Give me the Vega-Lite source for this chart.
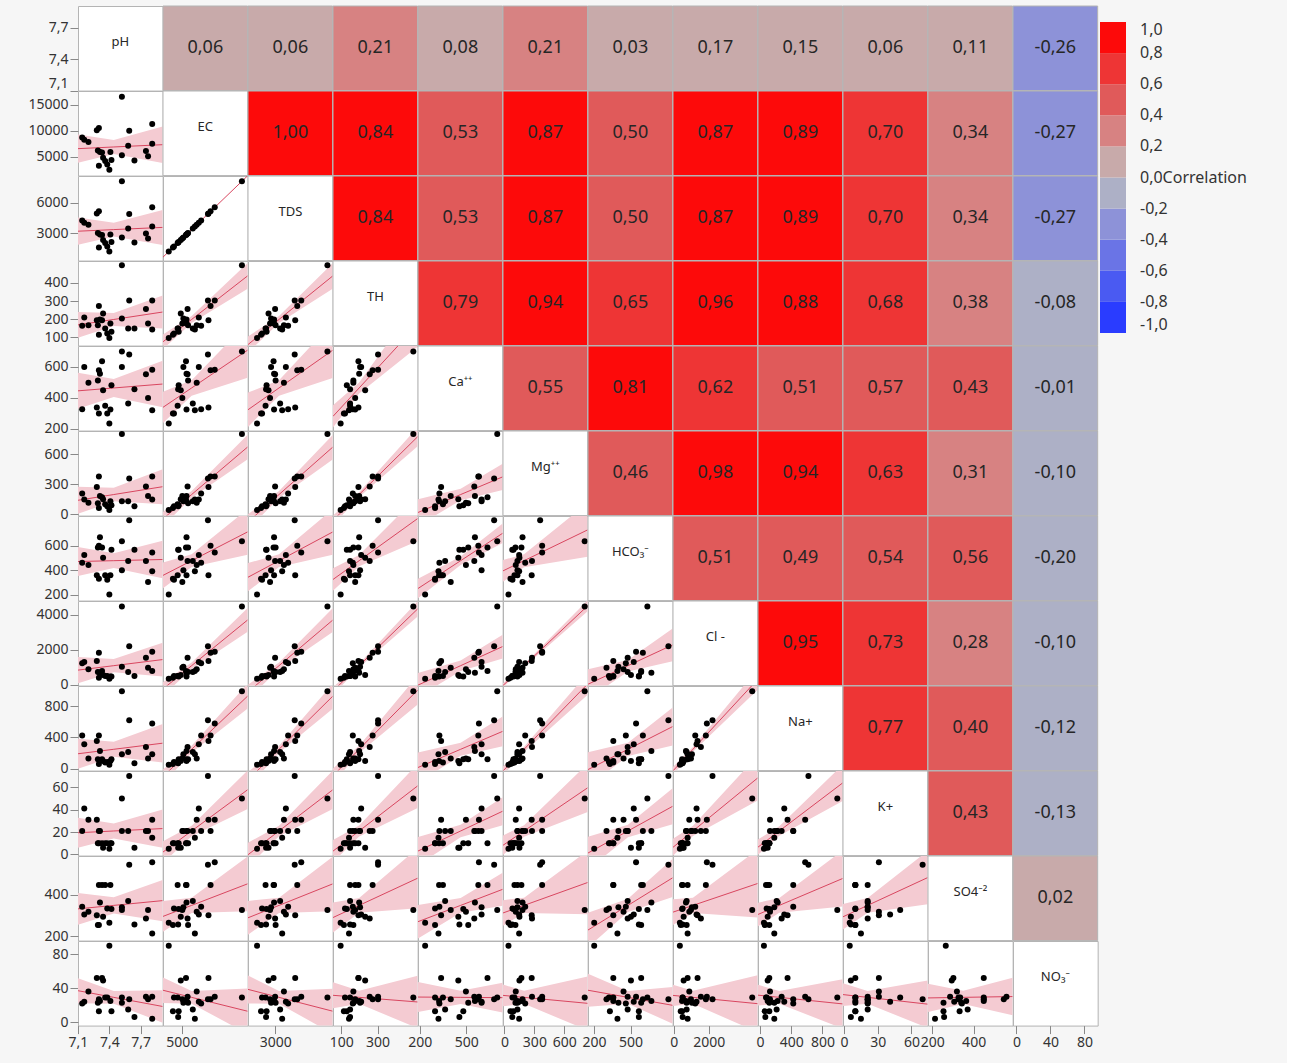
{
"$schema":"https://vega.github.io/schema/vega-lite/v6.json",
"background":"#f6f6f6",
"padding":{"left":27,"top":5,"right":40,"bottom":16},
"datasets":{"s":[
{"pH":7.14,"EC":8700,"TDS":4260,"TH":164,"Ca":327,"Mg":208,"HCO3":461,"Cl":1226,"Na":426,"K":21,"SO4":343,"NO3":22},
{"pH":7.16,"EC":8250,"TDS":4040,"TH":210,"Ca":599,"Mg":147,"HCO3":526,"Cl":1300,"Na":311,"K":41,"SO4":306,"NO3":24},
{"pH":7.20,"EC":7850,"TDS":3850,"TH":167,"Ca":498,"Mg":113,"HCO3":442,"Cl":887,"Na":128,"K":31,"SO4":319,"NO3":36},
{"pH":7.28,"EC":10100,"TDS":4950,"TH":195,"Ca":338,"Mg":273,"HCO3":358,"Cl":1358,"Na":353,"K":31,"SO4":302,"NO3":52},
{"pH":7.30,"EC":10500,"TDS":5150,"TH":273,"Ca":578,"Mg":378,"HCO3":601,"Cl":1830,"Na":426,"K":21,"SO4":449,"NO3":27},
{"pH":7.29,"EC":6200,"TDS":3040,"TH":167,"Ca":513,"Mg":110,"HCO3":587,"Cl":736,"Na":119,"K":10,"SO4":254,"NO3":23},
{"pH":7.31,"EC":5900,"TDS":2890,"TH":199,"Ca":556,"Mg":181,"HCO3":671,"Cl":698,"Na":226,"K":21,"SO4":364,"NO3":25},
{"pH":7.33,"EC":5800,"TDS":2840,"TH":195,"Ca":637,"Mg":170,"HCO3":587,"Cl":792,"Na":119,"K":10,"SO4":449,"NO3":52},
{"pH":7.41,"EC":5900,"TDS":2890,"TH":177,"Ca":325,"Mg":130,"HCO3":358,"Cl":472,"Na":98,"K":10,"SO4":449,"NO3":25},
{"pH":7.30,"EC":3300,"TDS":1620,"TH":115,"Ca":299,"Mg":60,"HCO3":330,"Cl":400,"Na":60,"K":10,"SO4":254,"NO3":13},
{"pH":7.34,"EC":4800,"TDS":2350,"TH":232,"Ca":449,"Mg":150,"HCO3":503,"Cl":566,"Na":98,"K":6,"SO4":294,"NO3":49},
{"pH":7.36,"EC":4200,"TDS":2060,"TH":149,"Ca":350,"Mg":100,"HCO3":358,"Cl":509,"Na":77,"K":10,"SO4":449,"NO3":29},
{"pH":7.38,"EC":3500,"TDS":1720,"TH":121,"Ca":299,"Mg":80,"HCO3":322,"Cl":509,"Na":85,"K":10,"SO4":335,"NO3":29},
{"pH":7.40,"EC":2500,"TDS":1230,"TH":97,"Ca":235,"Mg":40,"HCO3":201,"Cl":350,"Na":50,"K":5,"SO4":265,"NO3":90},
{"pH":7.42,"EC":4400,"TDS":2160,"TH":131,"Ca":481,"Mg":90,"HCO3":568,"Cl":480,"Na":119,"K":10,"SO4":332,"NO3":13},
{"pH":7.52,"EC":16500,"TDS":8090,"TH":497,"Ca":700,"Mg":805,"HCO3":638,"Cl":4470,"Na":991,"K":50,"SO4":327,"NO3":29},
{"pH":7.52,"EC":5300,"TDS":2600,"TH":204,"Ca":599,"Mg":130,"HCO3":400,"Cl":1038,"Na":183,"K":21,"SO4":340,"NO3":23},
{"pH":7.58,"EC":7100,"TDS":3480,"TH":149,"Ca":364,"Mg":130,"HCO3":476,"Cl":736,"Na":213,"K":21,"SO4":371,"NO3":15},
{"pH":7.59,"EC":10000,"TDS":4900,"TH":303,"Ca":680,"Mg":358,"HCO3":811,"Cl":2208,"Na":621,"K":70,"SO4":546,"NO3":27},
{"pH":7.64,"EC":4300,"TDS":2110,"TH":149,"Ca":456,"Mg":78,"HCO3":568,"Cl":509,"Na":68,"K":6,"SO4":257,"NO3":6},
{"pH":7.75,"EC":6100,"TDS":2990,"TH":257,"Ca":552,"Mg":276,"HCO3":476,"Cl":1547,"Na":277,"K":21,"SO4":286,"NO3":30},
{"pH":7.77,"EC":5100,"TDS":2500,"TH":177,"Ca":400,"Mg":181,"HCO3":302,"Cl":981,"Na":128,"K":21,"SO4":327,"NO3":27},
{"pH":7.81,"EC":11300,"TDS":5540,"TH":303,"Ca":582,"Mg":378,"HCO3":545,"Cl":1887,"Na":579,"K":31,"SO4":559,"NO3":30},
{"pH":7.81,"EC":7500,"TDS":3680,"TH":143,"Ca":321,"Mg":147,"HCO3":392,"Cl":792,"Na":183,"K":15,"SO4":213,"NO3":4}
]},
"columns":12,
"spacing":0,
"bounds":"flush",
"concat":[
{"layer":[{"data":{"values":[{"t":"pH"}]},"mark":{"type":"text","fontSize":13,"dy":-6},"encoding":{"text":{"field":"t"}}},{"data":{"name":"s"},"mark":{"type":"circle","opacity":0},"encoding":{"y":{"field":"pH","type":"quantitative","scale":{"domain":[7.1,7.91]},"axis":{"values":[7.1,7.4,7.7],"format":".1f","title":null,"labelFlush":true}}}}]},
{"data":{"values":[{"r":0.06}]},"layer":[{"mark":"rect","encoding":{"color":{"field":"r","type":"quantitative","title":null,"scale":{"type":"quantize","domain":[-1,1],"range":["#2a3cff","#4a5af2","#6a74e6","#8d92d8","#adb0c6","#c8aaaa","#d78282","#e05a5a","#ee3535","#fd0a0a"]},"legend":{"format":".1f","values":[-1,-0.8,-0.6,-0.4,-0.2,0,0.2,0.4,0.6,0.8,1],"labelExpr":"datum.value<=-1?'-1,0':datum.value==0?datum.label+'Correlation':datum.label","labelOffset":14}}}},{"mark":"text","encoding":{"text":{"field":"r","type":"quantitative"}}}]},
{"data":{"values":[{"r":0.06}]},"layer":[{"mark":"rect","encoding":{"color":{"field":"r","type":"quantitative","scale":{"type":"quantize"}}}},{"mark":"text","encoding":{"text":{"field":"r","type":"quantitative"}}}]},
{"data":{"values":[{"r":0.21}]},"layer":[{"mark":"rect","encoding":{"color":{"field":"r","type":"quantitative","scale":{"type":"quantize"}}}},{"mark":"text","encoding":{"text":{"field":"r","type":"quantitative"}}}]},
{"data":{"values":[{"r":0.08}]},"layer":[{"mark":"rect","encoding":{"color":{"field":"r","type":"quantitative","scale":{"type":"quantize"}}}},{"mark":"text","encoding":{"text":{"field":"r","type":"quantitative"}}}]},
{"data":{"values":[{"r":0.21}]},"layer":[{"mark":"rect","encoding":{"color":{"field":"r","type":"quantitative","scale":{"type":"quantize"}}}},{"mark":"text","encoding":{"text":{"field":"r","type":"quantitative"}}}]},
{"data":{"values":[{"r":0.03}]},"layer":[{"mark":"rect","encoding":{"color":{"field":"r","type":"quantitative","scale":{"type":"quantize"}}}},{"mark":"text","encoding":{"text":{"field":"r","type":"quantitative"}}}]},
{"data":{"values":[{"r":0.17}]},"layer":[{"mark":"rect","encoding":{"color":{"field":"r","type":"quantitative","scale":{"type":"quantize"}}}},{"mark":"text","encoding":{"text":{"field":"r","type":"quantitative"}}}]},
{"data":{"values":[{"r":0.15}]},"layer":[{"mark":"rect","encoding":{"color":{"field":"r","type":"quantitative","scale":{"type":"quantize"}}}},{"mark":"text","encoding":{"text":{"field":"r","type":"quantitative"}}}]},
{"data":{"values":[{"r":0.06}]},"layer":[{"mark":"rect","encoding":{"color":{"field":"r","type":"quantitative","scale":{"type":"quantize"}}}},{"mark":"text","encoding":{"text":{"field":"r","type":"quantitative"}}}]},
{"data":{"values":[{"r":0.11}]},"layer":[{"mark":"rect","encoding":{"color":{"field":"r","type":"quantitative","scale":{"type":"quantize"}}}},{"mark":"text","encoding":{"text":{"field":"r","type":"quantitative"}}}]},
{"data":{"values":[{"r":-0.26}]},"layer":[{"mark":"rect","encoding":{"color":{"field":"r","type":"quantitative","scale":{"type":"quantize"}}}},{"mark":"text","encoding":{"text":{"field":"r","type":"quantitative"}}}]},

{"encoding":{"x":{"field":"pH","type":"quantitative","scale":{"domain":[7.1,7.91]},"axis":null},"y":{"field":"EC","type":"quantitative","scale":{"domain":[1400,17600]},"axis":{"values":[5000,10000,15000],"format":"d","title":null}}},"layer":[{"data":{"values":[{"pH":7.1,"f":6558,"lo":3847,"hi":9269},{"pH":7.442,"f":6879,"lo":5520,"hi":8238},{"pH":7.91,"f":7318,"lo":3829,"hi":10807}]},"layer":[{"mark":{"type":"area","clip":true},"encoding":{"y":{"field":"lo","type":"quantitative"},"y2":{"field":"hi"}}},{"mark":{"type":"line","clip":true},"encoding":{"y":{"field":"f","type":"quantitative"}}}]},{"data":{"name":"s"},"mark":"circle"}]},
{"data":{"values":[{"t":"EC"}]},"layer":[{"mark":{"type":"rect","color":"white"}},{"mark":{"type":"text","fontSize":13,"dy":-6},"encoding":{"text":{"field":"t"}}}]},
{"data":{"values":[{"r":1.00}]},"layer":[{"mark":"rect","encoding":{"color":{"field":"r","type":"quantitative","scale":{"type":"quantize"}}}},{"mark":"text","encoding":{"text":{"field":"r","type":"quantitative"}}}]},
{"data":{"values":[{"r":0.84}]},"layer":[{"mark":"rect","encoding":{"color":{"field":"r","type":"quantitative","scale":{"type":"quantize"}}}},{"mark":"text","encoding":{"text":{"field":"r","type":"quantitative"}}}]},
{"data":{"values":[{"r":0.53}]},"layer":[{"mark":"rect","encoding":{"color":{"field":"r","type":"quantitative","scale":{"type":"quantize"}}}},{"mark":"text","encoding":{"text":{"field":"r","type":"quantitative"}}}]},
{"data":{"values":[{"r":0.87}]},"layer":[{"mark":"rect","encoding":{"color":{"field":"r","type":"quantitative","scale":{"type":"quantize"}}}},{"mark":"text","encoding":{"text":{"field":"r","type":"quantitative"}}}]},
{"data":{"values":[{"r":0.50}]},"layer":[{"mark":"rect","encoding":{"color":{"field":"r","type":"quantitative","scale":{"type":"quantize"}}}},{"mark":"text","encoding":{"text":{"field":"r","type":"quantitative"}}}]},
{"data":{"values":[{"r":0.87}]},"layer":[{"mark":"rect","encoding":{"color":{"field":"r","type":"quantitative","scale":{"type":"quantize"}}}},{"mark":"text","encoding":{"text":{"field":"r","type":"quantitative"}}}]},
{"data":{"values":[{"r":0.89}]},"layer":[{"mark":"rect","encoding":{"color":{"field":"r","type":"quantitative","scale":{"type":"quantize"}}}},{"mark":"text","encoding":{"text":{"field":"r","type":"quantitative"}}}]},
{"data":{"values":[{"r":0.70}]},"layer":[{"mark":"rect","encoding":{"color":{"field":"r","type":"quantitative","scale":{"type":"quantize"}}}},{"mark":"text","encoding":{"text":{"field":"r","type":"quantitative"}}}]},
{"data":{"values":[{"r":0.34}]},"layer":[{"mark":"rect","encoding":{"color":{"field":"r","type":"quantitative","scale":{"type":"quantize"}}}},{"mark":"text","encoding":{"text":{"field":"r","type":"quantitative"}}}]},
{"data":{"values":[{"r":-0.27}]},"layer":[{"mark":"rect","encoding":{"color":{"field":"r","type":"quantitative","scale":{"type":"quantize"}}}},{"mark":"text","encoding":{"text":{"field":"r","type":"quantitative"}}}]},

{"encoding":{"x":{"field":"pH","type":"quantitative","scale":{"domain":[7.1,7.91]},"axis":null},"y":{"field":"TDS","type":"quantitative","scale":{"domain":[350,8600]},"axis":{"values":[3000,6000],"format":"d","title":null}}},"layer":[{"data":{"values":[{"pH":7.1,"f":3214,"lo":1886,"hi":4542},{"pH":7.442,"f":3371,"lo":2706,"hi":4036},{"pH":7.91,"f":3586,"lo":1877,"hi":5295}]},"layer":[{"mark":{"type":"area","clip":true},"encoding":{"y":{"field":"lo","type":"quantitative"},"y2":{"field":"hi"}}},{"mark":{"type":"line","clip":true},"encoding":{"y":{"field":"f","type":"quantitative"}}}]},{"data":{"name":"s"},"mark":"circle"}]},
{"encoding":{"x":{"field":"EC","type":"quantitative","scale":{"domain":[1400,17600]},"axis":null},"y":{"field":"TDS","type":"quantitative","scale":{"domain":[350,8600]},"axis":null}},"layer":[{"data":{"values":[{"EC":1400,"f":687,"lo":687,"hi":687},{"EC":6879,"f":3371,"lo":3371,"hi":3371},{"EC":17600,"f":8623,"lo":8623,"hi":8623}]},"layer":[{"mark":{"type":"area","clip":true},"encoding":{"y":{"field":"lo","type":"quantitative"},"y2":{"field":"hi"}}},{"mark":{"type":"line","clip":true},"encoding":{"y":{"field":"f","type":"quantitative"}}}]},{"data":{"name":"s"},"mark":"circle"}]},
{"data":{"values":[{"t":"TDS"}]},"layer":[{"mark":{"type":"rect","color":"white"}},{"mark":{"type":"text","fontSize":13,"dy":-6},"encoding":{"text":{"field":"t"}}}]},
{"data":{"values":[{"r":0.84}]},"layer":[{"mark":"rect","encoding":{"color":{"field":"r","type":"quantitative","scale":{"type":"quantize"}}}},{"mark":"text","encoding":{"text":{"field":"r","type":"quantitative"}}}]},
{"data":{"values":[{"r":0.53}]},"layer":[{"mark":"rect","encoding":{"color":{"field":"r","type":"quantitative","scale":{"type":"quantize"}}}},{"mark":"text","encoding":{"text":{"field":"r","type":"quantitative"}}}]},
{"data":{"values":[{"r":0.87}]},"layer":[{"mark":"rect","encoding":{"color":{"field":"r","type":"quantitative","scale":{"type":"quantize"}}}},{"mark":"text","encoding":{"text":{"field":"r","type":"quantitative"}}}]},
{"data":{"values":[{"r":0.50}]},"layer":[{"mark":"rect","encoding":{"color":{"field":"r","type":"quantitative","scale":{"type":"quantize"}}}},{"mark":"text","encoding":{"text":{"field":"r","type":"quantitative"}}}]},
{"data":{"values":[{"r":0.87}]},"layer":[{"mark":"rect","encoding":{"color":{"field":"r","type":"quantitative","scale":{"type":"quantize"}}}},{"mark":"text","encoding":{"text":{"field":"r","type":"quantitative"}}}]},
{"data":{"values":[{"r":0.89}]},"layer":[{"mark":"rect","encoding":{"color":{"field":"r","type":"quantitative","scale":{"type":"quantize"}}}},{"mark":"text","encoding":{"text":{"field":"r","type":"quantitative"}}}]},
{"data":{"values":[{"r":0.70}]},"layer":[{"mark":"rect","encoding":{"color":{"field":"r","type":"quantitative","scale":{"type":"quantize"}}}},{"mark":"text","encoding":{"text":{"field":"r","type":"quantitative"}}}]},
{"data":{"values":[{"r":0.34}]},"layer":[{"mark":"rect","encoding":{"color":{"field":"r","type":"quantitative","scale":{"type":"quantize"}}}},{"mark":"text","encoding":{"text":{"field":"r","type":"quantitative"}}}]},
{"data":{"values":[{"r":-0.27}]},"layer":[{"mark":"rect","encoding":{"color":{"field":"r","type":"quantitative","scale":{"type":"quantize"}}}},{"mark":"text","encoding":{"text":{"field":"r","type":"quantitative"}}}]},

{"encoding":{"x":{"field":"pH","type":"quantitative","scale":{"domain":[7.1,7.91]},"axis":null},"y":{"field":"TH","type":"quantitative","scale":{"domain":[55,521]},"axis":{"values":[100,200,300,400],"format":"d","title":null}}},"layer":[{"data":{"values":[{"pH":7.1,"f":168.9,"lo":98,"hi":239.8},{"pH":7.442,"f":198.9,"lo":163.4,"hi":234.4},{"pH":7.91,"f":239.9,"lo":148.7,"hi":331.1}]},"layer":[{"mark":{"type":"area","clip":true},"encoding":{"y":{"field":"lo","type":"quantitative"},"y2":{"field":"hi"}}},{"mark":{"type":"line","clip":true},"encoding":{"y":{"field":"f","type":"quantitative"}}}]},{"data":{"name":"s"},"mark":"circle"}]},
{"encoding":{"x":{"field":"EC","type":"quantitative","scale":{"domain":[1400,17600]},"axis":null},"y":{"field":"TH","type":"quantitative","scale":{"domain":[55,521]},"axis":null}},"layer":[{"data":{"values":[{"EC":1400,"f":76.1,"lo":36,"hi":116.2},{"EC":6879,"f":198.9,"lo":179.2,"hi":218.6},{"EC":17600,"f":439.3,"lo":368.2,"hi":510.4}]},"layer":[{"mark":{"type":"area","clip":true},"encoding":{"y":{"field":"lo","type":"quantitative"},"y2":{"field":"hi"}}},{"mark":{"type":"line","clip":true},"encoding":{"y":{"field":"f","type":"quantitative"}}}]},{"data":{"name":"s"},"mark":"circle"}]},
{"encoding":{"x":{"field":"TDS","type":"quantitative","scale":{"domain":[350,8600]},"axis":null},"y":{"field":"TH","type":"quantitative","scale":{"domain":[55,521]},"axis":null}},"layer":[{"data":{"values":[{"TDS":350,"f":60.6,"lo":16.7,"hi":104.5},{"TDS":3371,"f":198.9,"lo":179.2,"hi":218.6},{"TDS":8600,"f":438.2,"lo":367.5,"hi":508.9}]},"layer":[{"mark":{"type":"area","clip":true},"encoding":{"y":{"field":"lo","type":"quantitative"},"y2":{"field":"hi"}}},{"mark":{"type":"line","clip":true},"encoding":{"y":{"field":"f","type":"quantitative"}}}]},{"data":{"name":"s"},"mark":"circle"}]},
{"data":{"values":[{"t":"TH"}]},"layer":[{"mark":{"type":"rect","color":"white"}},{"mark":{"type":"text","fontSize":13,"dy":-6},"encoding":{"text":{"field":"t"}}}]},
{"data":{"values":[{"r":0.79}]},"layer":[{"mark":"rect","encoding":{"color":{"field":"r","type":"quantitative","scale":{"type":"quantize"}}}},{"mark":"text","encoding":{"text":{"field":"r","type":"quantitative"}}}]},
{"data":{"values":[{"r":0.94}]},"layer":[{"mark":"rect","encoding":{"color":{"field":"r","type":"quantitative","scale":{"type":"quantize"}}}},{"mark":"text","encoding":{"text":{"field":"r","type":"quantitative"}}}]},
{"data":{"values":[{"r":0.65}]},"layer":[{"mark":"rect","encoding":{"color":{"field":"r","type":"quantitative","scale":{"type":"quantize"}}}},{"mark":"text","encoding":{"text":{"field":"r","type":"quantitative"}}}]},
{"data":{"values":[{"r":0.96}]},"layer":[{"mark":"rect","encoding":{"color":{"field":"r","type":"quantitative","scale":{"type":"quantize"}}}},{"mark":"text","encoding":{"text":{"field":"r","type":"quantitative"}}}]},
{"data":{"values":[{"r":0.88}]},"layer":[{"mark":"rect","encoding":{"color":{"field":"r","type":"quantitative","scale":{"type":"quantize"}}}},{"mark":"text","encoding":{"text":{"field":"r","type":"quantitative"}}}]},
{"data":{"values":[{"r":0.68}]},"layer":[{"mark":"rect","encoding":{"color":{"field":"r","type":"quantitative","scale":{"type":"quantize"}}}},{"mark":"text","encoding":{"text":{"field":"r","type":"quantitative"}}}]},
{"data":{"values":[{"r":0.38}]},"layer":[{"mark":"rect","encoding":{"color":{"field":"r","type":"quantitative","scale":{"type":"quantize"}}}},{"mark":"text","encoding":{"text":{"field":"r","type":"quantitative"}}}]},
{"data":{"values":[{"r":-0.08}]},"layer":[{"mark":"rect","encoding":{"color":{"field":"r","type":"quantitative","scale":{"type":"quantize"}}}},{"mark":"text","encoding":{"text":{"field":"r","type":"quantitative"}}}]},

{"encoding":{"x":{"field":"pH","type":"quantitative","scale":{"domain":[7.1,7.91]},"axis":null},"y":{"field":"Ca","type":"quantitative","scale":{"domain":[189,735]},"axis":{"values":[200,400,600],"format":"d","title":null}}},"layer":[{"data":{"values":[{"pH":7.1,"f":445.6,"lo":329.2,"hi":562},{"pH":7.442,"f":464.1,"lo":405.7,"hi":522.5},{"pH":7.91,"f":489.4,"lo":339.5,"hi":639.3}]},"layer":[{"mark":{"type":"area","clip":true},"encoding":{"y":{"field":"lo","type":"quantitative"},"y2":{"field":"hi"}}},{"mark":{"type":"line","clip":true},"encoding":{"y":{"field":"f","type":"quantitative"}}}]},{"data":{"name":"s"},"mark":"circle"}]},
{"encoding":{"x":{"field":"EC","type":"quantitative","scale":{"domain":[1400,17600]},"axis":null},"y":{"field":"Ca","type":"quantitative","scale":{"domain":[189,735]},"axis":null}},"layer":[{"data":{"values":[{"EC":1400,"f":339.2,"lo":238.2,"hi":440.2},{"EC":6879,"f":464.1,"lo":414.4,"hi":513.8},{"EC":17600,"f":708.5,"lo":529.4,"hi":887.6}]},"layer":[{"mark":{"type":"area","clip":true},"encoding":{"y":{"field":"lo","type":"quantitative"},"y2":{"field":"hi"}}},{"mark":{"type":"line","clip":true},"encoding":{"y":{"field":"f","type":"quantitative"}}}]},{"data":{"name":"s"},"mark":"circle"}]},
{"encoding":{"x":{"field":"TDS","type":"quantitative","scale":{"domain":[350,8600]},"axis":null},"y":{"field":"Ca","type":"quantitative","scale":{"domain":[189,735]},"axis":null}},"layer":[{"data":{"values":[{"TDS":350,"f":323.5,"lo":212.8,"hi":434.2},{"TDS":3371,"f":464.1,"lo":414.4,"hi":513.8},{"TDS":8600,"f":707.5,"lo":529.2,"hi":885.8}]},"layer":[{"mark":{"type":"area","clip":true},"encoding":{"y":{"field":"lo","type":"quantitative"},"y2":{"field":"hi"}}},{"mark":{"type":"line","clip":true},"encoding":{"y":{"field":"f","type":"quantitative"}}}]},{"data":{"name":"s"},"mark":"circle"}]},
{"encoding":{"x":{"field":"TH","type":"quantitative","scale":{"domain":[55,521]},"axis":null},"y":{"field":"Ca","type":"quantitative","scale":{"domain":[189,735]},"axis":null}},"layer":[{"data":{"values":[{"TH":55,"f":280.9,"lo":208.8,"hi":353},{"TH":198.9,"f":464.1,"lo":428.2,"hi":500},{"TH":521,"f":874.1,"lo":729.6,"hi":1018.6}]},"layer":[{"mark":{"type":"area","clip":true},"encoding":{"y":{"field":"lo","type":"quantitative"},"y2":{"field":"hi"}}},{"mark":{"type":"line","clip":true},"encoding":{"y":{"field":"f","type":"quantitative"}}}]},{"data":{"name":"s"},"mark":"circle"}]},
{"data":{"values":[{"t":"Ca⁺⁺"}]},"layer":[{"mark":{"type":"rect","color":"white"}},{"mark":{"type":"text","fontSize":13,"dy":-6},"encoding":{"text":{"field":"t"}}}]},
{"data":{"values":[{"r":0.55}]},"layer":[{"mark":"rect","encoding":{"color":{"field":"r","type":"quantitative","scale":{"type":"quantize"}}}},{"mark":"text","encoding":{"text":{"field":"r","type":"quantitative"}}}]},
{"data":{"values":[{"r":0.81}]},"layer":[{"mark":"rect","encoding":{"color":{"field":"r","type":"quantitative","scale":{"type":"quantize"}}}},{"mark":"text","encoding":{"text":{"field":"r","type":"quantitative"}}}]},
{"data":{"values":[{"r":0.62}]},"layer":[{"mark":"rect","encoding":{"color":{"field":"r","type":"quantitative","scale":{"type":"quantize"}}}},{"mark":"text","encoding":{"text":{"field":"r","type":"quantitative"}}}]},
{"data":{"values":[{"r":0.51}]},"layer":[{"mark":"rect","encoding":{"color":{"field":"r","type":"quantitative","scale":{"type":"quantize"}}}},{"mark":"text","encoding":{"text":{"field":"r","type":"quantitative"}}}]},
{"data":{"values":[{"r":0.57}]},"layer":[{"mark":"rect","encoding":{"color":{"field":"r","type":"quantitative","scale":{"type":"quantize"}}}},{"mark":"text","encoding":{"text":{"field":"r","type":"quantitative"}}}]},
{"data":{"values":[{"r":0.43}]},"layer":[{"mark":"rect","encoding":{"color":{"field":"r","type":"quantitative","scale":{"type":"quantize"}}}},{"mark":"text","encoding":{"text":{"field":"r","type":"quantitative"}}}]},
{"data":{"values":[{"r":-0.01}]},"layer":[{"mark":"rect","encoding":{"color":{"field":"r","type":"quantitative","scale":{"type":"quantize"}}}},{"mark":"text","encoding":{"text":{"field":"r","type":"quantitative"}}}]},

{"encoding":{"x":{"field":"pH","type":"quantitative","scale":{"domain":[7.1,7.91]},"axis":null},"y":{"field":"Mg","type":"quantitative","scale":{"domain":[-15,835]},"axis":{"values":[0,300,600],"format":"d","title":null}}},"layer":[{"data":{"values":[{"pH":7.1,"f":138.8,"lo":2.7,"hi":274.9},{"pH":7.442,"f":196.4,"lo":128.2,"hi":264.6},{"pH":7.91,"f":275.2,"lo":100.1,"hi":450.3}]},"layer":[{"mark":{"type":"area","clip":true},"encoding":{"y":{"field":"lo","type":"quantitative"},"y2":{"field":"hi"}}},{"mark":{"type":"line","clip":true},"encoding":{"y":{"field":"f","type":"quantitative"}}}]},{"data":{"name":"s"},"mark":"circle"}]},
{"encoding":{"x":{"field":"EC","type":"quantitative","scale":{"domain":[1400,17600]},"axis":null},"y":{"field":"Mg","type":"quantitative","scale":{"domain":[-15,835]},"axis":null}},"layer":[{"data":{"values":[{"EC":1400,"f":-47.9,"lo":-117.9,"hi":22.1},{"EC":6879,"f":196.4,"lo":162,"hi":230.8},{"EC":17600,"f":674.4,"lo":550.3,"hi":798.5}]},"layer":[{"mark":{"type":"area","clip":true},"encoding":{"y":{"field":"lo","type":"quantitative"},"y2":{"field":"hi"}}},{"mark":{"type":"line","clip":true},"encoding":{"y":{"field":"f","type":"quantitative"}}}]},{"data":{"name":"s"},"mark":"circle"}]},
{"encoding":{"x":{"field":"TDS","type":"quantitative","scale":{"domain":[350,8600]},"axis":null},"y":{"field":"Mg","type":"quantitative","scale":{"domain":[-15,835]},"axis":null}},"layer":[{"data":{"values":[{"TDS":350,"f":-78.6,"lo":-155.3,"hi":-1.9},{"TDS":3371,"f":196.4,"lo":162,"hi":230.8},{"TDS":8600,"f":672.3,"lo":548.8,"hi":795.8}]},"layer":[{"mark":{"type":"area","clip":true},"encoding":{"y":{"field":"lo","type":"quantitative"},"y2":{"field":"hi"}}},{"mark":{"type":"line","clip":true},"encoding":{"y":{"field":"f","type":"quantitative"}}}]},{"data":{"name":"s"},"mark":"circle"}]},
{"encoding":{"x":{"field":"TH","type":"quantitative","scale":{"domain":[55,521]},"axis":null},"y":{"field":"Mg","type":"quantitative","scale":{"domain":[-15,835]},"axis":null}},"layer":[{"data":{"values":[{"TH":55,"f":-63.2,"lo":-111,"hi":-15.4},{"TH":198.9,"f":196.4,"lo":172.6,"hi":220.2},{"TH":521,"f":777.6,"lo":681.8,"hi":873.4}]},"layer":[{"mark":{"type":"area","clip":true},"encoding":{"y":{"field":"lo","type":"quantitative"},"y2":{"field":"hi"}}},{"mark":{"type":"line","clip":true},"encoding":{"y":{"field":"f","type":"quantitative"}}}]},{"data":{"name":"s"},"mark":"circle"}]},
{"encoding":{"x":{"field":"Ca","type":"quantitative","scale":{"domain":[189,735]},"axis":null},"y":{"field":"Mg","type":"quantitative","scale":{"domain":[-15,835]},"axis":null}},"layer":[{"data":{"values":[{"Ca":189,"f":16.1,"lo":-117.6,"hi":149.8},{"Ca":464.1,"f":196.4,"lo":138.2,"hi":254.6},{"Ca":735,"f":374,"lo":241.9,"hi":506.1}]},"layer":[{"mark":{"type":"area","clip":true},"encoding":{"y":{"field":"lo","type":"quantitative"},"y2":{"field":"hi"}}},{"mark":{"type":"line","clip":true},"encoding":{"y":{"field":"f","type":"quantitative"}}}]},{"data":{"name":"s"},"mark":"circle"}]},
{"data":{"values":[{"t":"Mg⁺⁺"}]},"layer":[{"mark":{"type":"rect","color":"white"}},{"mark":{"type":"text","fontSize":13,"dy":-6},"encoding":{"text":{"field":"t"}}}]},
{"data":{"values":[{"r":0.46}]},"layer":[{"mark":"rect","encoding":{"color":{"field":"r","type":"quantitative","scale":{"type":"quantize"}}}},{"mark":"text","encoding":{"text":{"field":"r","type":"quantitative"}}}]},
{"data":{"values":[{"r":0.98}]},"layer":[{"mark":"rect","encoding":{"color":{"field":"r","type":"quantitative","scale":{"type":"quantize"}}}},{"mark":"text","encoding":{"text":{"field":"r","type":"quantitative"}}}]},
{"data":{"values":[{"r":0.94}]},"layer":[{"mark":"rect","encoding":{"color":{"field":"r","type":"quantitative","scale":{"type":"quantize"}}}},{"mark":"text","encoding":{"text":{"field":"r","type":"quantitative"}}}]},
{"data":{"values":[{"r":0.63}]},"layer":[{"mark":"rect","encoding":{"color":{"field":"r","type":"quantitative","scale":{"type":"quantize"}}}},{"mark":"text","encoding":{"text":{"field":"r","type":"quantitative"}}}]},
{"data":{"values":[{"r":0.31}]},"layer":[{"mark":"rect","encoding":{"color":{"field":"r","type":"quantitative","scale":{"type":"quantize"}}}},{"mark":"text","encoding":{"text":{"field":"r","type":"quantitative"}}}]},
{"data":{"values":[{"r":-0.10}]},"layer":[{"mark":"rect","encoding":{"color":{"field":"r","type":"quantitative","scale":{"type":"quantize"}}}},{"mark":"text","encoding":{"text":{"field":"r","type":"quantitative"}}}]},

{"encoding":{"x":{"field":"pH","type":"quantitative","scale":{"domain":[7.1,7.91]},"axis":null},"y":{"field":"HCO3","type":"quantitative","scale":{"domain":[150,846]},"axis":{"values":[200,400,600],"format":"d","title":null}}},"layer":[{"data":{"values":[{"pH":7.1,"f":471.3,"lo":351.3,"hi":591.3},{"pH":7.442,"f":478.4,"lo":418.3,"hi":538.5},{"pH":7.91,"f":488.1,"lo":333.7,"hi":642.5}]},"layer":[{"mark":{"type":"area","clip":true},"encoding":{"y":{"field":"lo","type":"quantitative"},"y2":{"field":"hi"}}},{"mark":{"type":"line","clip":true},"encoding":{"y":{"field":"f","type":"quantitative"}}}]},{"data":{"name":"s"},"mark":"circle"}]},
{"encoding":{"x":{"field":"EC","type":"quantitative","scale":{"domain":[1400,17600]},"axis":null},"y":{"field":"HCO3","type":"quantitative","scale":{"domain":[150,846]},"axis":null}},"layer":[{"data":{"values":[{"EC":1400,"f":357.3,"lo":251.3,"hi":463.3},{"EC":6879,"f":478.4,"lo":426.3,"hi":530.5},{"EC":17600,"f":715.4,"lo":527.4,"hi":903.4}]},"layer":[{"mark":{"type":"area","clip":true},"encoding":{"y":{"field":"lo","type":"quantitative"},"y2":{"field":"hi"}}},{"mark":{"type":"line","clip":true},"encoding":{"y":{"field":"f","type":"quantitative"}}}]},{"data":{"name":"s"},"mark":"circle"}]},
{"encoding":{"x":{"field":"TDS","type":"quantitative","scale":{"domain":[350,8600]},"axis":null},"y":{"field":"HCO3","type":"quantitative","scale":{"domain":[150,846]},"axis":null}},"layer":[{"data":{"values":[{"TDS":350,"f":342.1,"lo":225.9,"hi":458.3},{"TDS":3371,"f":478.4,"lo":426.3,"hi":530.5},{"TDS":8600,"f":714.3,"lo":527.1,"hi":901.5}]},"layer":[{"mark":{"type":"area","clip":true},"encoding":{"y":{"field":"lo","type":"quantitative"},"y2":{"field":"hi"}}},{"mark":{"type":"line","clip":true},"encoding":{"y":{"field":"f","type":"quantitative"}}}]},{"data":{"name":"s"},"mark":"circle"}]},
{"encoding":{"x":{"field":"TH","type":"quantitative","scale":{"domain":[55,521]},"axis":null},"y":{"field":"HCO3","type":"quantitative","scale":{"domain":[150,846]},"axis":null}},"layer":[{"data":{"values":[{"TH":55,"f":323.6,"lo":231.7,"hi":415.5},{"TH":198.9,"f":478.4,"lo":432.7,"hi":524.1},{"TH":521,"f":825,"lo":640.9,"hi":1009.1}]},"layer":[{"mark":{"type":"area","clip":true},"encoding":{"y":{"field":"lo","type":"quantitative"},"y2":{"field":"hi"}}},{"mark":{"type":"line","clip":true},"encoding":{"y":{"field":"f","type":"quantitative"}}}]},{"data":{"name":"s"},"mark":"circle"}]},
{"encoding":{"x":{"field":"Ca","type":"quantitative","scale":{"domain":[189,735]},"axis":null},"y":{"field":"HCO3","type":"quantitative","scale":{"domain":[150,846]},"axis":null}},"layer":[{"data":{"values":[{"Ca":189,"f":249.3,"lo":168.2,"hi":330.4},{"Ca":464.1,"f":478.4,"lo":443.1,"hi":513.7},{"Ca":735,"f":704,"lo":623.9,"hi":784.1}]},"layer":[{"mark":{"type":"area","clip":true},"encoding":{"y":{"field":"lo","type":"quantitative"},"y2":{"field":"hi"}}},{"mark":{"type":"line","clip":true},"encoding":{"y":{"field":"f","type":"quantitative"}}}]},{"data":{"name":"s"},"mark":"circle"}]},
{"encoding":{"x":{"field":"Mg","type":"quantitative","scale":{"domain":[-15,835]},"axis":null},"y":{"field":"HCO3","type":"quantitative","scale":{"domain":[150,846]},"axis":null}},"layer":[{"data":{"values":[{"Mg":-15,"f":394.5,"lo":305.3,"hi":483.7},{"Mg":196.4,"f":478.4,"lo":425,"hi":531.8},{"Mg":835,"f":731.8,"lo":510,"hi":953.6}]},"layer":[{"mark":{"type":"area","clip":true},"encoding":{"y":{"field":"lo","type":"quantitative"},"y2":{"field":"hi"}}},{"mark":{"type":"line","clip":true},"encoding":{"y":{"field":"f","type":"quantitative"}}}]},{"data":{"name":"s"},"mark":"circle"}]},
{"data":{"values":[{"t":"HCO₃⁻"}]},"layer":[{"mark":{"type":"rect","color":"white"}},{"mark":{"type":"text","fontSize":13,"dy":-6},"encoding":{"text":{"field":"t"}}}]},
{"data":{"values":[{"r":0.51}]},"layer":[{"mark":"rect","encoding":{"color":{"field":"r","type":"quantitative","scale":{"type":"quantize"}}}},{"mark":"text","encoding":{"text":{"field":"r","type":"quantitative"}}}]},
{"data":{"values":[{"r":0.49}]},"layer":[{"mark":"rect","encoding":{"color":{"field":"r","type":"quantitative","scale":{"type":"quantize"}}}},{"mark":"text","encoding":{"text":{"field":"r","type":"quantitative"}}}]},
{"data":{"values":[{"r":0.54}]},"layer":[{"mark":"rect","encoding":{"color":{"field":"r","type":"quantitative","scale":{"type":"quantize"}}}},{"mark":"text","encoding":{"text":{"field":"r","type":"quantitative"}}}]},
{"data":{"values":[{"r":0.56}]},"layer":[{"mark":"rect","encoding":{"color":{"field":"r","type":"quantitative","scale":{"type":"quantize"}}}},{"mark":"text","encoding":{"text":{"field":"r","type":"quantitative"}}}]},
{"data":{"values":[{"r":-0.20}]},"layer":[{"mark":"rect","encoding":{"color":{"field":"r","type":"quantitative","scale":{"type":"quantize"}}}},{"mark":"text","encoding":{"text":{"field":"r","type":"quantitative"}}}]},

{"encoding":{"x":{"field":"pH","type":"quantitative","scale":{"domain":[7.1,7.91]},"axis":null},"y":{"field":"Cl","type":"quantitative","scale":{"domain":[-40,4780]},"axis":{"values":[0,2000,4000],"format":"d","title":null}}},"layer":[{"data":{"values":[{"pH":7.1,"f":841,"lo":94,"hi":1589},{"pH":7.442,"f":1095,"lo":720,"hi":1470},{"pH":7.91,"f":1442,"lo":480,"hi":2404}]},"layer":[{"mark":{"type":"area","clip":true},"encoding":{"y":{"field":"lo","type":"quantitative"},"y2":{"field":"hi"}}},{"mark":{"type":"line","clip":true},"encoding":{"y":{"field":"f","type":"quantitative"}}}]},{"data":{"name":"s"},"mark":"circle"}]},
{"encoding":{"x":{"field":"EC","type":"quantitative","scale":{"domain":[1400,17600]},"axis":null},"y":{"field":"Cl","type":"quantitative","scale":{"domain":[-40,4780]},"axis":null}},"layer":[{"data":{"values":[{"EC":1400,"f":-236,"lo":-618,"hi":145},{"EC":6879,"f":1095,"lo":908,"hi":1282},{"EC":17600,"f":3700,"lo":3024,"hi":4376}]},"layer":[{"mark":{"type":"area","clip":true},"encoding":{"y":{"field":"lo","type":"quantitative"},"y2":{"field":"hi"}}},{"mark":{"type":"line","clip":true},"encoding":{"y":{"field":"f","type":"quantitative"}}}]},{"data":{"name":"s"},"mark":"circle"}]},
{"encoding":{"x":{"field":"TDS","type":"quantitative","scale":{"domain":[350,8600]},"axis":null},"y":{"field":"Cl","type":"quantitative","scale":{"domain":[-40,4780]},"axis":null}},"layer":[{"data":{"values":[{"TDS":350,"f":-404,"lo":-821,"hi":14},{"TDS":3371,"f":1095,"lo":908,"hi":1282},{"TDS":8600,"f":3689,"lo":3015,"hi":4362}]},"layer":[{"mark":{"type":"area","clip":true},"encoding":{"y":{"field":"lo","type":"quantitative"},"y2":{"field":"hi"}}},{"mark":{"type":"line","clip":true},"encoding":{"y":{"field":"f","type":"quantitative"}}}]},{"data":{"name":"s"},"mark":"circle"}]},
{"encoding":{"x":{"field":"TH","type":"quantitative","scale":{"domain":[55,521]},"axis":null},"y":{"field":"Cl","type":"quantitative","scale":{"domain":[-40,4780]},"axis":null}},"layer":[{"data":{"values":[{"TH":55,"f":-350,"lo":-564,"hi":-136},{"TH":198.9,"f":1095,"lo":989,"hi":1202},{"TH":521,"f":4330,"lo":3902,"hi":4759}]},"layer":[{"mark":{"type":"area","clip":true},"encoding":{"y":{"field":"lo","type":"quantitative"},"y2":{"field":"hi"}}},{"mark":{"type":"line","clip":true},"encoding":{"y":{"field":"f","type":"quantitative"}}}]},{"data":{"name":"s"},"mark":"circle"}]},
{"encoding":{"x":{"field":"Ca","type":"quantitative","scale":{"domain":[189,735]},"axis":null},"y":{"field":"Cl","type":"quantitative","scale":{"domain":[-40,4780]},"axis":null}},"layer":[{"data":{"values":[{"Ca":189,"f":-13,"lo":-698,"hi":672},{"Ca":464.1,"f":1095,"lo":797,"hi":1393},{"Ca":735,"f":2186,"lo":1509,"hi":2863}]},"layer":[{"mark":{"type":"area","clip":true},"encoding":{"y":{"field":"lo","type":"quantitative"},"y2":{"field":"hi"}}},{"mark":{"type":"line","clip":true},"encoding":{"y":{"field":"f","type":"quantitative"}}}]},{"data":{"name":"s"},"mark":"circle"}]},
{"encoding":{"x":{"field":"Mg","type":"quantitative","scale":{"domain":[-15,835]},"axis":null},"y":{"field":"Cl","type":"quantitative","scale":{"domain":[-40,4780]},"axis":null}},"layer":[{"data":{"values":[{"Mg":-15,"f":-35,"lo":-161,"hi":91},{"Mg":196.4,"f":1095,"lo":1019,"hi":1171},{"Mg":835,"f":4507,"lo":4193,"hi":4821}]},"layer":[{"mark":{"type":"area","clip":true},"encoding":{"y":{"field":"lo","type":"quantitative"},"y2":{"field":"hi"}}},{"mark":{"type":"line","clip":true},"encoding":{"y":{"field":"f","type":"quantitative"}}}]},{"data":{"name":"s"},"mark":"circle"}]},
{"encoding":{"x":{"field":"HCO3","type":"quantitative","scale":{"domain":[150,846]},"axis":null},"y":{"field":"Cl","type":"quantitative","scale":{"domain":[-40,4780]},"axis":null}},"layer":[{"data":{"values":[{"HCO3":150,"f":37,"lo":-813,"hi":888},{"HCO3":478.4,"f":1095,"lo":768,"hi":1422},{"HCO3":846,"f":2279,"lo":1342,"hi":3217}]},"layer":[{"mark":{"type":"area","clip":true},"encoding":{"y":{"field":"lo","type":"quantitative"},"y2":{"field":"hi"}}},{"mark":{"type":"line","clip":true},"encoding":{"y":{"field":"f","type":"quantitative"}}}]},{"data":{"name":"s"},"mark":"circle"}]},
{"data":{"values":[{"t":"Cl -"}]},"layer":[{"mark":{"type":"rect","color":"white"}},{"mark":{"type":"text","fontSize":13,"dy":-6},"encoding":{"text":{"field":"t"}}}]},
{"data":{"values":[{"r":0.95}]},"layer":[{"mark":"rect","encoding":{"color":{"field":"r","type":"quantitative","scale":{"type":"quantize"}}}},{"mark":"text","encoding":{"text":{"field":"r","type":"quantitative"}}}]},
{"data":{"values":[{"r":0.73}]},"layer":[{"mark":"rect","encoding":{"color":{"field":"r","type":"quantitative","scale":{"type":"quantize"}}}},{"mark":"text","encoding":{"text":{"field":"r","type":"quantitative"}}}]},
{"data":{"values":[{"r":0.28}]},"layer":[{"mark":"rect","encoding":{"color":{"field":"r","type":"quantitative","scale":{"type":"quantize"}}}},{"mark":"text","encoding":{"text":{"field":"r","type":"quantitative"}}}]},
{"data":{"values":[{"r":-0.10}]},"layer":[{"mark":"rect","encoding":{"color":{"field":"r","type":"quantitative","scale":{"type":"quantize"}}}},{"mark":"text","encoding":{"text":{"field":"r","type":"quantitative"}}}]},

{"encoding":{"x":{"field":"pH","type":"quantitative","scale":{"domain":[7.1,7.91]},"axis":null},"y":{"field":"Na","type":"quantitative","scale":{"domain":[-26,1060]},"axis":{"values":[0,400,800],"format":"d","title":null}}},"layer":[{"data":{"values":[{"pH":7.1,"f":190,"lo":-2.3,"hi":382.3},{"pH":7.442,"f":247.4,"lo":151,"hi":343.8},{"pH":7.91,"f":325.9,"lo":78.4,"hi":573.4}]},"layer":[{"mark":{"type":"area","clip":true},"encoding":{"y":{"field":"lo","type":"quantitative"},"y2":{"field":"hi"}}},{"mark":{"type":"line","clip":true},"encoding":{"y":{"field":"f","type":"quantitative"}}}]},{"data":{"name":"s"},"mark":"circle"}]},
{"encoding":{"x":{"field":"EC","type":"quantitative","scale":{"domain":[1400,17600]},"axis":null},"y":{"field":"Na","type":"quantitative","scale":{"domain":[-26,1060]},"axis":null}},"layer":[{"data":{"values":[{"EC":1400,"f":-101.9,"lo":-192.3,"hi":-11.5},{"EC":6879,"f":247.4,"lo":203,"hi":291.8},{"EC":17600,"f":930.8,"lo":770.5,"hi":1091.1}]},"layer":[{"mark":{"type":"area","clip":true},"encoding":{"y":{"field":"lo","type":"quantitative"},"y2":{"field":"hi"}}},{"mark":{"type":"line","clip":true},"encoding":{"y":{"field":"f","type":"quantitative"}}}]},{"data":{"name":"s"},"mark":"circle"}]},
{"encoding":{"x":{"field":"TDS","type":"quantitative","scale":{"domain":[350,8600]},"axis":null},"y":{"field":"Na","type":"quantitative","scale":{"domain":[-26,1060]},"axis":null}},"layer":[{"data":{"values":[{"TDS":350,"f":-145.7,"lo":-244.8,"hi":-46.6},{"TDS":3371,"f":247.4,"lo":203,"hi":291.8},{"TDS":8600,"f":927.8,"lo":768.2,"hi":1087.4}]},"layer":[{"mark":{"type":"area","clip":true},"encoding":{"y":{"field":"lo","type":"quantitative"},"y2":{"field":"hi"}}},{"mark":{"type":"line","clip":true},"encoding":{"y":{"field":"f","type":"quantitative"}}}]},{"data":{"name":"s"},"mark":"circle"}]},
{"encoding":{"x":{"field":"TH","type":"quantitative","scale":{"domain":[55,521]},"axis":null},"y":{"field":"Na","type":"quantitative","scale":{"domain":[-26,1060]},"axis":null}},"layer":[{"data":{"values":[{"TH":55,"f":-92.5,"lo":-185.5,"hi":0.5},{"TH":198.9,"f":247.4,"lo":201.1,"hi":293.7},{"TH":521,"f":1008.2,"lo":821.9,"hi":1194.5}]},"layer":[{"mark":{"type":"area","clip":true},"encoding":{"y":{"field":"lo","type":"quantitative"},"y2":{"field":"hi"}}},{"mark":{"type":"line","clip":true},"encoding":{"y":{"field":"f","type":"quantitative"}}}]},{"data":{"name":"s"},"mark":"circle"}]},
{"encoding":{"x":{"field":"Ca","type":"quantitative","scale":{"domain":[189,735]},"axis":null},"y":{"field":"Na","type":"quantitative","scale":{"domain":[-26,1060]},"axis":null}},"layer":[{"data":{"values":[{"Ca":189,"f":13.6,"lo":-179.1,"hi":206.3},{"Ca":464.1,"f":247.4,"lo":163.5,"hi":331.3},{"Ca":735,"f":477.6,"lo":287.3,"hi":667.9}]},"layer":[{"mark":{"type":"area","clip":true},"encoding":{"y":{"field":"lo","type":"quantitative"},"y2":{"field":"hi"}}},{"mark":{"type":"line","clip":true},"encoding":{"y":{"field":"f","type":"quantitative"}}}]},{"data":{"name":"s"},"mark":"circle"}]},
{"encoding":{"x":{"field":"Mg","type":"quantitative","scale":{"domain":[-15,835]},"axis":null},"y":{"field":"Na","type":"quantitative","scale":{"domain":[-26,1060]},"axis":null}},"layer":[{"data":{"values":[{"Mg":-15,"f":-30.5,"lo":-86,"hi":25},{"Mg":196.4,"f":247.4,"lo":214.1,"hi":280.7},{"Mg":835,"f":1086.5,"lo":948.4,"hi":1224.6}]},"layer":[{"mark":{"type":"area","clip":true},"encoding":{"y":{"field":"lo","type":"quantitative"},"y2":{"field":"hi"}}},{"mark":{"type":"line","clip":true},"encoding":{"y":{"field":"f","type":"quantitative"}}}]},{"data":{"name":"s"},"mark":"circle"}]},
{"encoding":{"x":{"field":"HCO3","type":"quantitative","scale":{"domain":[150,846]},"axis":null},"y":{"field":"Na","type":"quantitative","scale":{"domain":[-26,1060]},"axis":null}},"layer":[{"data":{"values":[{"HCO3":150,"f":-13.2,"lo":-234.3,"hi":207.9},{"HCO3":478.4,"f":247.4,"lo":162.4,"hi":332.4},{"HCO3":846,"f":539.1,"lo":295.4,"hi":782.8}]},"layer":[{"mark":{"type":"area","clip":true},"encoding":{"y":{"field":"lo","type":"quantitative"},"y2":{"field":"hi"}}},{"mark":{"type":"line","clip":true},"encoding":{"y":{"field":"f","type":"quantitative"}}}]},{"data":{"name":"s"},"mark":"circle"}]},
{"encoding":{"x":{"field":"Cl","type":"quantitative","scale":{"domain":[-40,4780]},"axis":null},"y":{"field":"Na","type":"quantitative","scale":{"domain":[-26,1060]},"axis":null}},"layer":[{"data":{"values":[{"Cl":-40,"f":-29.2,"lo":-79.4,"hi":21},{"Cl":1095,"f":247.4,"lo":217,"hi":277.8},{"Cl":4780,"f":1145.2,"lo":1011.9,"hi":1278.5}]},"layer":[{"mark":{"type":"area","clip":true},"encoding":{"y":{"field":"lo","type":"quantitative"},"y2":{"field":"hi"}}},{"mark":{"type":"line","clip":true},"encoding":{"y":{"field":"f","type":"quantitative"}}}]},{"data":{"name":"s"},"mark":"circle"}]},
{"data":{"values":[{"t":"Na+"}]},"layer":[{"mark":{"type":"rect","color":"white"}},{"mark":{"type":"text","fontSize":13,"dy":-6},"encoding":{"text":{"field":"t"}}}]},
{"data":{"values":[{"r":0.77}]},"layer":[{"mark":"rect","encoding":{"color":{"field":"r","type":"quantitative","scale":{"type":"quantize"}}}},{"mark":"text","encoding":{"text":{"field":"r","type":"quantitative"}}}]},
{"data":{"values":[{"r":0.40}]},"layer":[{"mark":"rect","encoding":{"color":{"field":"r","type":"quantitative","scale":{"type":"quantize"}}}},{"mark":"text","encoding":{"text":{"field":"r","type":"quantitative"}}}]},
{"data":{"values":[{"r":-0.12}]},"layer":[{"mark":"rect","encoding":{"color":{"field":"r","type":"quantitative","scale":{"type":"quantize"}}}},{"mark":"text","encoding":{"text":{"field":"r","type":"quantitative"}}}]},

{"encoding":{"x":{"field":"pH","type":"quantitative","scale":{"domain":[7.1,7.91]},"axis":null},"y":{"field":"K","type":"quantitative","scale":{"domain":[-1,74.5]},"axis":{"values":[0,20,40,60],"format":"d","title":null}}},"layer":[{"data":{"values":[{"pH":7.1,"f":19.39,"lo":6.09,"hi":32.69},{"pH":7.442,"f":20.96,"lo":14.29,"hi":27.63},{"pH":7.91,"f":23.11,"lo":5.98,"hi":40.24}]},"layer":[{"mark":{"type":"area","clip":true},"encoding":{"y":{"field":"lo","type":"quantitative"},"y2":{"field":"hi"}}},{"mark":{"type":"line","clip":true},"encoding":{"y":{"field":"f","type":"quantitative"}}}]},{"data":{"name":"s"},"mark":"circle"}]},
{"encoding":{"x":{"field":"EC","type":"quantitative","scale":{"domain":[1400,17600]},"axis":null},"y":{"field":"K","type":"quantitative","scale":{"domain":[-1,74.5]},"axis":null}},"layer":[{"data":{"values":[{"EC":1400,"f":2.14,"lo":-7.57,"hi":11.85},{"EC":6879,"f":20.96,"lo":16.19,"hi":25.73},{"EC":17600,"f":57.8,"lo":40.59,"hi":75.01}]},"layer":[{"mark":{"type":"area","clip":true},"encoding":{"y":{"field":"lo","type":"quantitative"},"y2":{"field":"hi"}}},{"mark":{"type":"line","clip":true},"encoding":{"y":{"field":"f","type":"quantitative"}}}]},{"data":{"name":"s"},"mark":"circle"}]},
{"encoding":{"x":{"field":"TDS","type":"quantitative","scale":{"domain":[350,8600]},"axis":null},"y":{"field":"K","type":"quantitative","scale":{"domain":[-1,74.5]},"axis":null}},"layer":[{"data":{"values":[{"TDS":350,"f":-0.23,"lo":-10.87,"hi":10.41},{"TDS":3371,"f":20.96,"lo":16.19,"hi":25.73},{"TDS":8600,"f":57.63,"lo":40.49,"hi":74.77}]},"layer":[{"mark":{"type":"area","clip":true},"encoding":{"y":{"field":"lo","type":"quantitative"},"y2":{"field":"hi"}}},{"mark":{"type":"line","clip":true},"encoding":{"y":{"field":"f","type":"quantitative"}}}]},{"data":{"name":"s"},"mark":"circle"}]},
{"encoding":{"x":{"field":"TH","type":"quantitative","scale":{"domain":[55,521]},"axis":null},"y":{"field":"K","type":"quantitative","scale":{"domain":[-1,74.5]},"axis":null}},"layer":[{"data":{"values":[{"TH":55,"f":2.97,"lo":-6.87,"hi":12.81},{"TH":198.9,"f":20.96,"lo":16.06,"hi":25.86},{"TH":521,"f":61.23,"lo":41.52,"hi":80.94}]},"layer":[{"mark":{"type":"area","clip":true},"encoding":{"y":{"field":"lo","type":"quantitative"},"y2":{"field":"hi"}}},{"mark":{"type":"line","clip":true},"encoding":{"y":{"field":"f","type":"quantitative"}}}]},{"data":{"name":"s"},"mark":"circle"}]},
{"encoding":{"x":{"field":"Ca","type":"quantitative","scale":{"domain":[189,735]},"axis":null},"y":{"field":"K","type":"quantitative","scale":{"domain":[-1,74.5]},"axis":null}},"layer":[{"data":{"values":[{"Ca":189,"f":3.05,"lo":-9.55,"hi":15.65},{"Ca":464.1,"f":20.96,"lo":15.47,"hi":26.45},{"Ca":735,"f":38.6,"lo":26.15,"hi":51.05}]},"layer":[{"mark":{"type":"area","clip":true},"encoding":{"y":{"field":"lo","type":"quantitative"},"y2":{"field":"hi"}}},{"mark":{"type":"line","clip":true},"encoding":{"y":{"field":"f","type":"quantitative"}}}]},{"data":{"name":"s"},"mark":"circle"}]},
{"encoding":{"x":{"field":"Mg","type":"quantitative","scale":{"domain":[-15,835]},"axis":null},"y":{"field":"K","type":"quantitative","scale":{"domain":[-1,74.5]},"axis":null}},"layer":[{"data":{"values":[{"Mg":-15,"f":8.19,"lo":-0.47,"hi":16.85},{"Mg":196.4,"f":20.96,"lo":15.77,"hi":26.15},{"Mg":835,"f":59.52,"lo":37.98,"hi":81.06}]},"layer":[{"mark":{"type":"area","clip":true},"encoding":{"y":{"field":"lo","type":"quantitative"},"y2":{"field":"hi"}}},{"mark":{"type":"line","clip":true},"encoding":{"y":{"field":"f","type":"quantitative"}}}]},{"data":{"name":"s"},"mark":"circle"}]},
{"encoding":{"x":{"field":"HCO3","type":"quantitative","scale":{"domain":[150,846]},"axis":null},"y":{"field":"K","type":"quantitative","scale":{"domain":[-1,74.5]},"axis":null}},"layer":[{"data":{"values":[{"HCO3":150,"f":1.27,"lo":-13.36,"hi":15.9},{"HCO3":478.4,"f":20.96,"lo":15.34,"hi":26.58},{"HCO3":846,"f":43,"lo":26.87,"hi":59.13}]},"layer":[{"mark":{"type":"area","clip":true},"encoding":{"y":{"field":"lo","type":"quantitative"},"y2":{"field":"hi"}}},{"mark":{"type":"line","clip":true},"encoding":{"y":{"field":"f","type":"quantitative"}}}]},{"data":{"name":"s"},"mark":"circle"}]},
{"encoding":{"x":{"field":"Cl","type":"quantitative","scale":{"domain":[-40,4780]},"axis":null},"y":{"field":"K","type":"quantitative","scale":{"domain":[-1,74.5]},"axis":null}},"layer":[{"data":{"values":[{"Cl":-40,"f":6.39,"lo":-1.14,"hi":13.92},{"Cl":1095,"f":20.96,"lo":16.4,"hi":25.52},{"Cl":4780,"f":68.26,"lo":48.27,"hi":88.25}]},"layer":[{"mark":{"type":"area","clip":true},"encoding":{"y":{"field":"lo","type":"quantitative"},"y2":{"field":"hi"}}},{"mark":{"type":"line","clip":true},"encoding":{"y":{"field":"f","type":"quantitative"}}}]},{"data":{"name":"s"},"mark":"circle"}]},
{"encoding":{"x":{"field":"Na","type":"quantitative","scale":{"domain":[-26,1060]},"axis":null},"y":{"field":"K","type":"quantitative","scale":{"domain":[-1,74.5]},"axis":null}},"layer":[{"data":{"values":[{"Na":-26,"f":6.52,"lo":-0.25,"hi":13.29},{"Na":247.4,"f":20.96,"lo":16.7,"hi":25.22},{"Na":1060,"f":63.85,"lo":47.65,"hi":80.05}]},"layer":[{"mark":{"type":"area","clip":true},"encoding":{"y":{"field":"lo","type":"quantitative"},"y2":{"field":"hi"}}},{"mark":{"type":"line","clip":true},"encoding":{"y":{"field":"f","type":"quantitative"}}}]},{"data":{"name":"s"},"mark":"circle"}]},
{"data":{"values":[{"t":"K+"}]},"layer":[{"mark":{"type":"rect","color":"white"}},{"mark":{"type":"text","fontSize":13,"dy":-6},"encoding":{"text":{"field":"t"}}}]},
{"data":{"values":[{"r":0.43}]},"layer":[{"mark":"rect","encoding":{"color":{"field":"r","type":"quantitative","scale":{"type":"quantize"}}}},{"mark":"text","encoding":{"text":{"field":"r","type":"quantitative"}}}]},
{"data":{"values":[{"r":-0.13}]},"layer":[{"mark":"rect","encoding":{"color":{"field":"r","type":"quantitative","scale":{"type":"quantize"}}}},{"mark":"text","encoding":{"text":{"field":"r","type":"quantitative"}}}]},

{"encoding":{"x":{"field":"pH","type":"quantitative","scale":{"domain":[7.1,7.91]},"axis":null},"y":{"field":"SO4","type":"quantitative","scale":{"domain":[179,589]},"axis":{"values":[200,400],"format":"d","title":null}}},"layer":[{"data":{"values":[{"pH":7.1,"f":332.7,"lo":255.2,"hi":410.2},{"pH":7.442,"f":349.6,"lo":310.7,"hi":388.5},{"pH":7.91,"f":372.7,"lo":272.9,"hi":472.5}]},"layer":[{"mark":{"type":"area","clip":true},"encoding":{"y":{"field":"lo","type":"quantitative"},"y2":{"field":"hi"}}},{"mark":{"type":"line","clip":true},"encoding":{"y":{"field":"f","type":"quantitative"}}}]},{"data":{"name":"s"},"mark":"circle"}]},
{"encoding":{"x":{"field":"EC","type":"quantitative","scale":{"domain":[1400,17600]},"axis":null},"y":{"field":"SO4","type":"quantitative","scale":{"domain":[179,589]},"axis":null}},"layer":[{"data":{"values":[{"EC":1400,"f":296.2,"lo":221.4,"hi":371},{"EC":6879,"f":349.6,"lo":312.8,"hi":386.4},{"EC":17600,"f":454.2,"lo":321.6,"hi":586.8}]},"layer":[{"mark":{"type":"area","clip":true},"encoding":{"y":{"field":"lo","type":"quantitative"},"y2":{"field":"hi"}}},{"mark":{"type":"line","clip":true},"encoding":{"y":{"field":"f","type":"quantitative"}}}]},{"data":{"name":"s"},"mark":"circle"}]},
{"encoding":{"x":{"field":"TDS","type":"quantitative","scale":{"domain":[350,8600]},"axis":null},"y":{"field":"SO4","type":"quantitative","scale":{"domain":[179,589]},"axis":null}},"layer":[{"data":{"values":[{"TDS":350,"f":289.4,"lo":207.4,"hi":371.4},{"TDS":3371,"f":349.6,"lo":312.8,"hi":386.4},{"TDS":8600,"f":453.7,"lo":321.7,"hi":585.7}]},"layer":[{"mark":{"type":"area","clip":true},"encoding":{"y":{"field":"lo","type":"quantitative"},"y2":{"field":"hi"}}},{"mark":{"type":"line","clip":true},"encoding":{"y":{"field":"f","type":"quantitative"}}}]},{"data":{"name":"s"},"mark":"circle"}]},
{"encoding":{"x":{"field":"TH","type":"quantitative","scale":{"domain":[55,521]},"axis":null},"y":{"field":"SO4","type":"quantitative","scale":{"domain":[179,589]},"axis":null}},"layer":[{"data":{"values":[{"TH":55,"f":290.7,"lo":218,"hi":363.4},{"TH":198.9,"f":349.6,"lo":313.4,"hi":385.8},{"TH":521,"f":481.4,"lo":335.8,"hi":627}]},"layer":[{"mark":{"type":"area","clip":true},"encoding":{"y":{"field":"lo","type":"quantitative"},"y2":{"field":"hi"}}},{"mark":{"type":"line","clip":true},"encoding":{"y":{"field":"f","type":"quantitative"}}}]},{"data":{"name":"s"},"mark":"circle"}]},
{"encoding":{"x":{"field":"Ca","type":"quantitative","scale":{"domain":[189,735]},"axis":null},"y":{"field":"SO4","type":"quantitative","scale":{"domain":[179,589]},"axis":null}},"layer":[{"data":{"values":[{"Ca":189,"f":270.6,"lo":189.5,"hi":351.7},{"Ca":464.1,"f":349.6,"lo":314.3,"hi":384.9},{"Ca":735,"f":427.4,"lo":347.3,"hi":507.5}]},"layer":[{"mark":{"type":"area","clip":true},"encoding":{"y":{"field":"lo","type":"quantitative"},"y2":{"field":"hi"}}},{"mark":{"type":"line","clip":true},"encoding":{"y":{"field":"f","type":"quantitative"}}}]},{"data":{"name":"s"},"mark":"circle"}]},
{"encoding":{"x":{"field":"Mg","type":"quantitative","scale":{"domain":[-15,835]},"axis":null},"y":{"field":"SO4","type":"quantitative","scale":{"domain":[179,589]},"axis":null}},"layer":[{"data":{"values":[{"Mg":-15,"f":312.9,"lo":250.9,"hi":374.9},{"Mg":196.4,"f":349.6,"lo":312.4,"hi":386.8},{"Mg":835,"f":460.5,"lo":306.3,"hi":614.7}]},"layer":[{"mark":{"type":"area","clip":true},"encoding":{"y":{"field":"lo","type":"quantitative"},"y2":{"field":"hi"}}},{"mark":{"type":"line","clip":true},"encoding":{"y":{"field":"f","type":"quantitative"}}}]},{"data":{"name":"s"},"mark":"circle"}]},
{"encoding":{"x":{"field":"HCO3","type":"quantitative","scale":{"domain":[150,846]},"axis":null},"y":{"field":"SO4","type":"quantitative","scale":{"domain":[179,589]},"axis":null}},"layer":[{"data":{"values":[{"HCO3":150,"f":230.1,"lo":145.9,"hi":314.3},{"HCO3":478.4,"f":349.6,"lo":317.2,"hi":382},{"HCO3":846,"f":483.4,"lo":390.6,"hi":576.2}]},"layer":[{"mark":{"type":"area","clip":true},"encoding":{"y":{"field":"lo","type":"quantitative"},"y2":{"field":"hi"}}},{"mark":{"type":"line","clip":true},"encoding":{"y":{"field":"f","type":"quantitative"}}}]},{"data":{"name":"s"},"mark":"circle"}]},
{"encoding":{"x":{"field":"Cl","type":"quantitative","scale":{"domain":[-40,4780]},"axis":null},"y":{"field":"SO4","type":"quantitative","scale":{"domain":[179,589]},"axis":null}},"layer":[{"data":{"values":[{"Cl":-40,"f":316.9,"lo":255,"hi":378.8},{"Cl":1095,"f":349.6,"lo":312.1,"hi":387.1},{"Cl":4780,"f":455.7,"lo":291.3,"hi":620.1}]},"layer":[{"mark":{"type":"area","clip":true},"encoding":{"y":{"field":"lo","type":"quantitative"},"y2":{"field":"hi"}}},{"mark":{"type":"line","clip":true},"encoding":{"y":{"field":"f","type":"quantitative"}}}]},{"data":{"name":"s"},"mark":"circle"}]},
{"encoding":{"x":{"field":"Na","type":"quantitative","scale":{"domain":[-26,1060]},"axis":null},"y":{"field":"SO4","type":"quantitative","scale":{"domain":[179,589]},"axis":null}},"layer":[{"data":{"values":[{"Na":-26,"f":305.7,"lo":248.8,"hi":362.6},{"Na":247.4,"f":349.6,"lo":313.8,"hi":385.4},{"Na":1060,"f":480,"lo":343.9,"hi":616.1}]},"layer":[{"mark":{"type":"area","clip":true},"encoding":{"y":{"field":"lo","type":"quantitative"},"y2":{"field":"hi"}}},{"mark":{"type":"line","clip":true},"encoding":{"y":{"field":"f","type":"quantitative"}}}]},{"data":{"name":"s"},"mark":"circle"}]},
{"encoding":{"x":{"field":"K","type":"quantitative","scale":{"domain":[-1,74.5]},"axis":null},"y":{"field":"SO4","type":"quantitative","scale":{"domain":[179,589]},"axis":null}},"layer":[{"data":{"values":[{"K":-1,"f":294.3,"lo":232.2,"hi":356.4},{"K":20.96,"f":349.6,"lo":314.3,"hi":384.9},{"K":74.5,"f":484.3,"lo":354.9,"hi":613.7}]},"layer":[{"mark":{"type":"area","clip":true},"encoding":{"y":{"field":"lo","type":"quantitative"},"y2":{"field":"hi"}}},{"mark":{"type":"line","clip":true},"encoding":{"y":{"field":"f","type":"quantitative"}}}]},{"data":{"name":"s"},"mark":"circle"}]},
{"data":{"values":[{"t":"SO4⁻²"}]},"layer":[{"mark":{"type":"rect","color":"white"}},{"mark":{"type":"text","fontSize":13,"dy":-6},"encoding":{"text":{"field":"t"}}}]},
{"data":{"values":[{"r":0.02}]},"layer":[{"mark":"rect","encoding":{"color":{"field":"r","type":"quantitative","scale":{"type":"quantize"}}}},{"mark":"text","encoding":{"text":{"field":"r","type":"quantitative"}}}]},

{"encoding":{"x":{"field":"pH","type":"quantitative","scale":{"domain":[7.1,7.91]},"axis":{"values":[7.1,7.4,7.7],"format":".1f","title":null}},"y":{"field":"NO3","type":"quantitative","scale":{"domain":[-4,95.5]},"axis":{"values":[0,40,80],"format":"d","title":null}}},"layer":[{"data":{"values":[{"pH":7.1,"f":37.04,"lo":22.26,"hi":51.82},{"pH":7.442,"f":29.2,"lo":21.79,"hi":36.61},{"pH":7.91,"f":18.47,"lo":-0.56,"hi":37.5}]},"layer":[{"mark":{"type":"area","clip":true},"encoding":{"y":{"field":"lo","type":"quantitative"},"y2":{"field":"hi"}}},{"mark":{"type":"line","clip":true},"encoding":{"y":{"field":"f","type":"quantitative"}}}]},{"data":{"name":"s"},"mark":"circle"}]},
{"encoding":{"x":{"field":"EC","type":"quantitative","scale":{"domain":[1400,17600]},"axis":{"values":[5000],"format":"d","title":null}},"y":{"field":"NO3","type":"quantitative","scale":{"domain":[-4,95.5]},"axis":null}},"layer":[{"data":{"values":[{"EC":1400,"f":37.55,"lo":22.52,"hi":52.58},{"EC":6879,"f":29.2,"lo":21.81,"hi":36.59},{"EC":17600,"f":12.87,"lo":-13.78,"hi":39.52}]},"layer":[{"mark":{"type":"area","clip":true},"encoding":{"y":{"field":"lo","type":"quantitative"},"y2":{"field":"hi"}}},{"mark":{"type":"line","clip":true},"encoding":{"y":{"field":"f","type":"quantitative"}}}]},{"data":{"name":"s"},"mark":"circle"}]},
{"encoding":{"x":{"field":"TDS","type":"quantitative","scale":{"domain":[350,8600]},"axis":{"values":[3000],"format":"d","title":null}},"y":{"field":"NO3","type":"quantitative","scale":{"domain":[-4,95.5]},"axis":null}},"layer":[{"data":{"values":[{"TDS":350,"f":38.59,"lo":22.12,"hi":55.06},{"TDS":3371,"f":29.2,"lo":21.81,"hi":36.59},{"TDS":8600,"f":12.94,"lo":-13.59,"hi":39.47}]},"layer":[{"mark":{"type":"area","clip":true},"encoding":{"y":{"field":"lo","type":"quantitative"},"y2":{"field":"hi"}}},{"mark":{"type":"line","clip":true},"encoding":{"y":{"field":"f","type":"quantitative"}}}]},{"data":{"name":"s"},"mark":"circle"}]},
{"encoding":{"x":{"field":"TH","type":"quantitative","scale":{"domain":[55,521]},"axis":{"values":[100,300],"format":"d","title":null}},"y":{"field":"NO3","type":"quantitative","scale":{"domain":[-4,95.5]},"axis":null}},"layer":[{"data":{"values":[{"TH":55,"f":31.62,"lo":16.26,"hi":46.98},{"TH":198.9,"f":29.2,"lo":21.55,"hi":36.85},{"TH":521,"f":23.77,"lo":-7.01,"hi":54.55}]},"layer":[{"mark":{"type":"area","clip":true},"encoding":{"y":{"field":"lo","type":"quantitative"},"y2":{"field":"hi"}}},{"mark":{"type":"line","clip":true},"encoding":{"y":{"field":"f","type":"quantitative"}}}]},{"data":{"name":"s"},"mark":"circle"}]},
{"encoding":{"x":{"field":"Ca","type":"quantitative","scale":{"domain":[189,735]},"axis":{"values":[200,500],"format":"d","title":null}},"y":{"field":"NO3","type":"quantitative","scale":{"domain":[-4,95.5]},"axis":null}},"layer":[{"data":{"values":[{"Ca":189,"f":29.56,"lo":11.94,"hi":47.18},{"Ca":464.1,"f":29.2,"lo":21.53,"hi":36.87},{"Ca":735,"f":28.84,"lo":11.43,"hi":46.25}]},"layer":[{"mark":{"type":"area","clip":true},"encoding":{"y":{"field":"lo","type":"quantitative"},"y2":{"field":"hi"}}},{"mark":{"type":"line","clip":true},"encoding":{"y":{"field":"f","type":"quantitative"}}}]},{"data":{"name":"s"},"mark":"circle"}]},
{"encoding":{"x":{"field":"Mg","type":"quantitative","scale":{"domain":[-15,835]},"axis":{"values":[0,300,600],"format":"d","title":null}},"y":{"field":"NO3","type":"quantitative","scale":{"domain":[-4,95.5]},"axis":null}},"layer":[{"data":{"values":[{"Mg":-15,"f":31.53,"lo":18.8,"hi":44.26},{"Mg":196.4,"f":29.2,"lo":21.57,"hi":36.83},{"Mg":835,"f":22.17,"lo":-9.51,"hi":53.85}]},"layer":[{"mark":{"type":"area","clip":true},"encoding":{"y":{"field":"lo","type":"quantitative"},"y2":{"field":"hi"}}},{"mark":{"type":"line","clip":true},"encoding":{"y":{"field":"f","type":"quantitative"}}}]},{"data":{"name":"s"},"mark":"circle"}]},
{"encoding":{"x":{"field":"HCO3","type":"quantitative","scale":{"domain":[150,846]},"axis":{"values":[200,500],"format":"d","title":null}},"y":{"field":"NO3","type":"quantitative","scale":{"domain":[-4,95.5]},"axis":null}},"layer":[{"data":{"values":[{"HCO3":150,"f":37.57,"lo":18.02,"hi":57.12},{"HCO3":478.4,"f":29.2,"lo":21.68,"hi":36.72},{"HCO3":846,"f":19.83,"lo":-1.73,"hi":41.39}]},"layer":[{"mark":{"type":"area","clip":true},"encoding":{"y":{"field":"lo","type":"quantitative"},"y2":{"field":"hi"}}},{"mark":{"type":"line","clip":true},"encoding":{"y":{"field":"f","type":"quantitative"}}}]},{"data":{"name":"s"},"mark":"circle"}]},
{"encoding":{"x":{"field":"Cl","type":"quantitative","scale":{"domain":[-40,4780]},"axis":{"values":[0,2000],"format":"d","title":null}},"y":{"field":"NO3","type":"quantitative","scale":{"domain":[-4,95.5]},"axis":null}},"layer":[{"data":{"values":[{"Cl":-40,"f":31.49,"lo":18.9,"hi":44.08},{"Cl":1095,"f":29.2,"lo":21.57,"hi":36.83},{"Cl":4780,"f":21.76,"lo":-11.68,"hi":55.2}]},"layer":[{"mark":{"type":"area","clip":true},"encoding":{"y":{"field":"lo","type":"quantitative"},"y2":{"field":"hi"}}},{"mark":{"type":"line","clip":true},"encoding":{"y":{"field":"f","type":"quantitative"}}}]},{"data":{"name":"s"},"mark":"circle"}]},
{"encoding":{"x":{"field":"Na","type":"quantitative","scale":{"domain":[-26,1060]},"axis":{"values":[0,400,800],"format":"d","title":null}},"y":{"field":"NO3","type":"quantitative","scale":{"domain":[-4,95.5]},"axis":null}},"layer":[{"data":{"values":[{"Na":-26,"f":31.79,"lo":19.69,"hi":43.89},{"Na":247.4,"f":29.2,"lo":21.58,"hi":36.82},{"Na":1060,"f":21.51,"lo":-7.43,"hi":50.45}]},"layer":[{"mark":{"type":"area","clip":true},"encoding":{"y":{"field":"lo","type":"quantitative"},"y2":{"field":"hi"}}},{"mark":{"type":"line","clip":true},"encoding":{"y":{"field":"f","type":"quantitative"}}}]},{"data":{"name":"s"},"mark":"circle"}]},
{"encoding":{"x":{"field":"K","type":"quantitative","scale":{"domain":[-1,74.5]},"axis":{"values":[0,30,60],"format":"d","title":null}},"y":{"field":"NO3","type":"quantitative","scale":{"domain":[-4,95.5]},"axis":null}},"layer":[{"data":{"values":[{"K":-1,"f":32.47,"lo":19.09,"hi":45.85},{"K":20.96,"f":29.2,"lo":21.59,"hi":36.81},{"K":74.5,"f":21.22,"lo":-6.67,"hi":49.11}]},"layer":[{"mark":{"type":"area","clip":true},"encoding":{"y":{"field":"lo","type":"quantitative"},"y2":{"field":"hi"}}},{"mark":{"type":"line","clip":true},"encoding":{"y":{"field":"f","type":"quantitative"}}}]},{"data":{"name":"s"},"mark":"circle"}]},
{"encoding":{"x":{"field":"SO4","type":"quantitative","scale":{"domain":[179,589]},"axis":{"values":[200,400],"format":"d","title":null}},"y":{"field":"NO3","type":"quantitative","scale":{"domain":[-4,95.5]},"axis":null}},"layer":[{"data":{"values":[{"SO4":179,"f":28.52,"lo":11.91,"hi":45.13},{"SO4":349.6,"f":29.2,"lo":21.53,"hi":36.87},{"SO4":589,"f":30.15,"lo":8.1,"hi":52.2}]},"layer":[{"mark":{"type":"area","clip":true},"encoding":{"y":{"field":"lo","type":"quantitative"},"y2":{"field":"hi"}}},{"mark":{"type":"line","clip":true},"encoding":{"y":{"field":"f","type":"quantitative"}}}]},{"data":{"name":"s"},"mark":"circle"}]},
{"layer":[{"data":{"values":[{"t":"NO₃⁻"}]},"mark":{"type":"text","fontSize":13,"dy":-6},"encoding":{"text":{"field":"t"}}},{"data":{"name":"s"},"mark":{"type":"circle","opacity":0},"encoding":{"x":{"field":"NO3","type":"quantitative","scale":{"domain":[-4,95.5]},"axis":{"values":[0,40,80],"format":"d","title":null}}}}]}
],
"config":{
"font":"Noto Sans",
"numberFormat":".2f",
"locale":{"number":{"decimal":",","thousands":".","grouping":[3],"currency":["",""],"minus":"-"}},
"view":{"stroke":"#b4b4b4","fill":"white","continuousWidth":84.67,"continuousHeight":84.58,"discreteWidth":84.67,"discreteHeight":84.58},
"axis":{"labelFontSize":14,"labelColor":"#333","tickColor":"#888","tickSize":8,"domain":false,"grid":false,"labelFlush":false,"labelOverlap":false,"labelPadding":2},
"circle":{"color":"black","size":36,"opacity":1},
"area":{"color":"#f4cbd2","opacity":1},
"line":{"color":"#d8465f","strokeWidth":1},
"rect":{"stroke":"#b4b4b4","strokeWidth":1},
"text":{"fontSize":18,"color":"#262626"},
"legend":{"orient":"none","legendX":1022,"legendY":16,"gradientLength":311,"gradientThickness":26,"labelFontSize":16,"labelColor":"#333","labelLimit":200}
}
}
